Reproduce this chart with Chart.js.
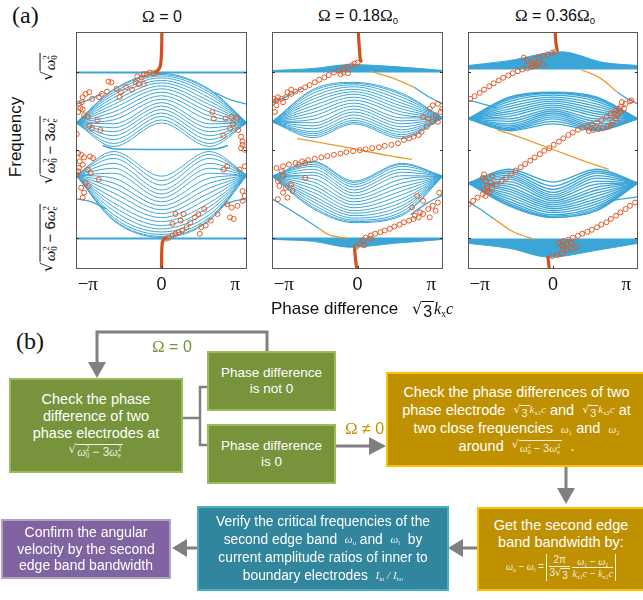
<!DOCTYPE html>
<html>
<head>
<meta charset="utf-8">
<script src="https://cdn.jsdelivr.net/npm/chart.js@4.4.1/dist/chart.umd.min.js"></script>
<style>
  html, body { margin: 0; padding: 0; background: #fff; }
  #fig { position: relative; width: 643px; height: 600px; overflow: hidden; font-family: 'Liberation Sans', Arial, sans-serif; color: #111; }
  canvas { position: absolute; }
  .abs { position: absolute; white-space: nowrap; }
  .lab { font-family: 'Liberation Serif', serif; font-size: 24px; }
  .ttl { font-size: 16px; transform: translateX(-50%); }
  .om { font-family: 'Liberation Serif', serif; font-size: 17px; }
  .rot { transform: translate(-50%, -50%) rotate(-90deg); }
  .m { font-family: 'Liberation Serif', serif; font-style: italic; }
  .up { font-style: normal; font-family: 'Liberation Sans', Arial, sans-serif; }
  .r { display: inline-flex; align-items: flex-start; }
  .r .s { font-style: normal; font-family: 'DejaVu Sans', sans-serif; }
  .r .o { border-top: 1px solid currentColor; padding: 1px 2px 0 1px; line-height: 1.1; margin-top: 0.1em; }
  .ss { display: inline-block; vertical-align: -0.32em; font-size: 0.6em; line-height: 0.95; font-style: normal; text-align: left; }
  .ss b { display: block; font-weight: normal; }
  .sub { font-size: 0.6em; vertical-align: -0.35em; font-style: normal; line-height: 0; }
  .box { position: absolute; box-sizing: border-box; display: flex; align-items: center; justify-content: center;
         text-align: center; color: #fff; border: 2px solid; }
  .fm { font-size: 11px; color: rgba(255,255,255,0.88); display: inline-block; line-height: 1; vertical-align: middle; }
  .frac { display: inline-flex; flex-direction: column; vertical-align: middle; text-align: center; line-height: 1.15; }
  .frac > span:first-child { border-bottom: 1px solid currentColor; }
  .abv { display: inline-flex; align-items: center; border-left: 1px solid currentColor; border-right: 1px solid currentColor; padding: 0 2px; vertical-align: middle; }
</style>
</head>
<body>
<div id="fig">
  <div class="abs lab" style="left:12px;top:2px;">(a)</div>
  <div class="abs ttl" style="left:162px;top:7px;"><span class="om">Ω</span> = 0</div>
  <div class="abs ttl" style="left:358px;top:6px;"><span class="om">Ω</span> = 0.18<span class="om">Ω</span><span class="sub">0</span></div>
  <div class="abs ttl" style="left:555px;top:6px;"><span class="om">Ω</span> = 0.36<span class="om">Ω</span><span class="sub">0</span></div>
  <div class="abs rot" style="left:16px;top:137px;font-size:17px;">Frequency</div>

  <div id="yl0" class="abs rot m" style="left:48px;font-size:15px;"><span class="r"><span class="s">√</span><span class="o">ω<span class="ss"><b>2</b><b>0</b></span></span></span></div>
  <div id="yl1" class="abs rot m" style="left:48px;font-size:15px;"><span class="r"><span class="s">√</span><span class="o">ω<span class="ss"><b>2</b><b>0</b></span> <span class="up">− 3</span>ω<span class="ss"><b>2</b><b>e</b></span></span></span></div>
  <div id="yl2" class="abs rot m" style="left:48px;font-size:15px;"><span class="r"><span class="s">√</span><span class="o">ω<span class="ss"><b>2</b><b>0</b></span> <span class="up">− 6</span>ω<span class="ss"><b>2</b><b>e</b></span></span></span></div>

  <canvas id="c1" width="181" height="274" style="left:71px;top:27px;"></canvas>
  <canvas id="c2" width="181" height="274" style="left:267px;top:27px;"></canvas>
  <canvas id="c3" width="180" height="274" style="left:463px;top:27px;"></canvas>

  <div class="abs" style="left:271px;top:299px;font-size:17px;">Phase difference</div>
  <div class="abs m" style="left:412px;top:299px;font-size:16px;"><span class="r"><span class="s">√</span><span class="o up">3</span></span>k<span class="sub">x</span>c</div>

  <!-- flowchart -->
  <div class="abs lab" style="left:16px;top:328px;">(b)</div>
  <svg class="abs" style="left:0;top:0;" width="643" height="600">
    <g stroke="#808080" fill="none" stroke-width="3">
      <polyline points="267,351 267,332 97,332 97,364"/>
      <polyline points="182,418 200,418" stroke-width="2.5"/>
      <polyline points="207,387 200,387 200,445 207,445" stroke-width="2.5"/>
      <polyline points="335,446 370,446"/>
      <polyline points="566,466 566,489"/>
      <polyline points="477,548 462,548"/>
      <polyline points="197,548 186,548"/>
    </g>
    <g fill="#808080">
      <polygon points="88,362 106,362 97,378"/>
      <polygon points="369,437 369,455 386,446"/>
      <polygon points="557,488 575,488 566,504"/>
      <polygon points="463,539 463,557 448,548"/>
      <polygon points="187,539 187,557 172,548"/>
    </g>
  </svg>
  <div class="abs" style="left:152px;top:337px;font-size:16px;color:#77933C;"><span class="om">Ω</span> = 0</div>
  <div class="abs" style="left:345px;top:419px;font-size:16px;color:#C59400;"><span class="om">Ω</span> ≠ 0</div>

  <div class="box" style="left:9px;top:378px;width:174px;height:95px;background:#77933C;border-color:#9BBB59;font-size:14.5px;line-height:17px;">
    <div>Check the phase<br>difference of two<br>phase electrodes at<br><span class="m fm" style="font-size:12px;"><span class="r"><span class="s">√</span><span class="o">ω<span class="ss"><b>2</b><b>0</b></span> <span class="up">− 3</span>ω<span class="ss"><b>2</b><b>e</b></span></span></span></span></div>
  </div>
  <div class="box" style="left:207px;top:351px;width:129px;height:60px;background:#77933C;border-color:#9BBB59;font-size:13.5px;line-height:16.5px;">
    <div>Phase difference<br>is not 0</div>
  </div>
  <div class="box" style="left:207px;top:424px;width:129px;height:60px;background:#77933C;border-color:#9BBB59;font-size:13.5px;line-height:16.5px;">
    <div>Phase difference<br>is 0</div>
  </div>
  <div class="box" style="left:386px;top:372px;width:262px;height:95px;background:#BF9000;border-color:#FFC000;font-size:14.5px;line-height:18px;justify-content:flex-start;">
    <div style="width:257px;">Check the phase differences of two<br>phase electrode&nbsp; <span class="m fm"><span class="r"><span class="s">√</span><span class="o up">3</span></span>k<span class="sub">x1</span>c</span> and&nbsp; <span class="m fm"><span class="r"><span class="s">√</span><span class="o up">3</span></span>k<span class="sub">x2</span>c</span> at<br>two close frequencies&nbsp; <span class="m fm">ω<span class="sub">1</span></span> and&nbsp; <span class="m fm">ω<span class="sub">2</span></span><br>around&nbsp; <span class="m fm"><span class="r"><span class="s">√</span><span class="o">ω<span class="ss"><b>2</b><b>0</b></span> <span class="up">− 3</span>ω<span class="ss"><b>2</b><b>e</b></span></span></span></span> &nbsp;.</div>
  </div>
  <div class="box" style="left:477px;top:507px;width:170px;height:84px;background:#BF9000;border-color:#FFC000;font-size:14.5px;line-height:17px;justify-content:flex-start;">
    <div style="width:164px;">Get the second edge<br>band bandwidth by:<br><span class="m fm" style="font-size:10px;margin-top:3px;">ω<span class="sub">u</span> <span class="up">−</span> ω<span class="sub">l</span> <span class="up">=</span> <span class="abv"><span class="frac"><span class="up">2π</span><span><span class="up">3</span><span class="r"><span class="s">√</span><span class="o up">3</span></span></span></span>&nbsp;<span class="frac"><span>ω<span class="sub">1</span> <span class="up">−</span> ω<span class="sub">2</span></span><span>k<span class="sub">x1</span>c <span class="up">−</span> k<span class="sub">x1</span>c</span></span></span></span></div>
  </div>
  <div class="box" style="left:197px;top:506px;width:252px;height:85px;background:#31859C;border-color:#4BACC6;font-size:13.8px;line-height:18px;">
    <div>Verify the critical frequencies of the<br>second edge band&nbsp; <span class="m fm">ω<span class="sub">u</span></span> and&nbsp; <span class="m fm">ω<span class="sub">l</span></span>&nbsp; by<br>current amplitude ratios of inner to<br>boundary electrodes&nbsp; <span class="m fm">I<span class="sub">in</span> / I<span class="sub">bo</span></span></div>
  </div>
  <div class="box" style="left:1px;top:519px;width:170px;height:60px;background:#8064A2;border-color:#B3A2C7;font-size:14px;line-height:16.5px;">
    <div>Confirm the angular<br>velocity by the second<br>edge band bandwidth</div>
  </div>
</div>

<script>
// ---------- axes ----------
const xTickValues = [-1, 0, 1];            // phase difference in units of π
const xTickLabels = ['−π', '0', 'π'];
const yLevels = [78, 0, -90];              // √ω0², √(ω0²−3ωe²), √(ω0²−6ωe²)
const xRange = [-1.16, 1.16];
const yRange = [-121, 119];

// ---------- Ω = 0 ----------
const p1Knots = [-1.16, -0.65, 0, 0.65, 1.16];
const p1UpperTips = [27, 27];
const p1UpperSide = [61, 60, 58, 55.5, 52.5, 49, 45.5, 42, 38, 34, 30, 26, 22, 18, 14, 10, 6, 3];
const p1UpperCenter = [77, 76, 74.5, 72.5, 70, 67.5, 64.5, 61.5, 58, 54.5, 51, 47.5, 44, 40.5, 37, 33.5, 30, 27];
const p1LowerTips = [-26, -26];
const p1LowerSide = [-72, -71, -69, -66, -62, -58, -54, -49, -44, -39, -34, -29, -24, -19, -14, -9, -5, -2];
const p1LowerCenter = [-89, -88, -86, -83.5, -80.5, -77, -73, -69, -65, -61, -57, -53, -49, -45, -41, -36, -31.5, -27];
const p1Flat = [78, -90];
const p1MidLine = [[-0.8, 4], [-0.62, 0.5], [0, 0], [0.72, 0.5], [0.9, 4]];
const p1BlueEdges = [
  [[-1.16, 46], [-1.0, 50], [-0.8, 57]],
  [[0.72, 58], [0.95, 50], [1.16, 46]],
  [[-1.16, -50], [-0.95, -53], [-0.75, -60]],
  [[0.8, -58], [0.95, -53], [1.16, -50]]
];
const p1OrangeEdges = [];
const p1Tracks = [
  [[0.005, 119], [0.0, 98], [-0.015, 85], [-0.05, 80], [-0.09, 78]],
  [[0.06, -89.3], [0.02, -92], [0.005, -100], [0.0, -121]]
];
const p1Measured = [
  [-0.07,78],[-0.11,77.3],[-0.16,78],[-0.20,76.3],[-0.24,76.3],[-0.27,73],[-0.33,74],[-0.35,68],[-0.31,66.3],[-0.24,66.3],
  [-0.40,60.7],[-0.48,63],[-0.55,58],[-0.57,53],[-0.61,61.3],[-0.68,68],[-0.72,68.7],[-0.74,58.7],[-0.81,56.3],[-0.85,53],
  [-0.94,51.3],[-0.98,58],[-1.03,56.3],[-1.07,53],[-1.08,48],[-1.12,46.3],[-1.10,42],[-1.07,40.7],[-1.13,38],[-1.05,34.7],
  [-1.00,33],[-0.98,24],[-0.94,21.3],[-0.87,29.7],[-0.83,19.7],[-1.15,15.7],
  [0.69,38],[0.71,31.3],[0.87,31.3],[0.95,33],[1.02,32],[0.97,26.3],[0.84,14],[0.93,21.3],[1.04,19.7],[1.08,13],
  [1.10,8],[1.10,4.7],[1.13,-0.3],[1.08,1.3],
  [-1.13,-3.7],[-1.09,-5.3],[-1.05,-8],[-0.97,-7],[-0.93,-8.7],[-1.11,-12],[-1.07,-15.3],[-1.12,-18.7],[-1.00,-20.3],
  [-0.96,-23.7],[-1.15,-25.3],[-1.03,-33.7],[-0.99,-37],[-1.09,-38.7],[-1.05,-43.7],[-1.07,-48.7],[-0.85,-30.3],[-1.13,-22],
  [1.13,-17],[1.06,-20.3],[0.89,-17],[0.84,-20.3],[1.10,-42],[1.13,-47],[1.10,-52],[1.03,-57],[0.95,-58.7],[0.89,-55.3],
  [0.93,-68.7],[0.98,-70.3],[0.76,-65.3],[0.67,-72],[0.60,-77],[0.54,-78.7],[0.50,-65.3],[0.45,-68.7],[0.39,-73.7],
  [0.34,-78.7],[0.28,-82],[0.23,-83.7],[0.19,-85.3],[0.15,-87],[0.10,-89.3],[0.06,-90.3],[0.26,-72],[0.15,-75.3],
  [0.30,-65.3],[0.19,-65.3],[0.52,-85.3],[0.58,-60.3]
];

// ---------- Ω = 0.18Ω0 ----------
const p2Knots = [-1.16, -0.6, -0.05, 0.6, 1.16];
const p2UpperTips = [28, 32];
const p2UpperLeft = [61, 59.5, 57, 54, 51, 48, 44.5, 41, 37.5, 34, 30.5, 27, 24, 21, 18, 16, 14, 12];
const p2UpperCenter = [68, 67, 65.5, 63.5, 61, 58.5, 56, 53, 50, 47, 44, 41, 38, 35, 32, 29.5, 27.5, 26];
const p2UpperRight = [57, 55.5, 53, 50, 47, 44, 41, 38, 35, 32, 29, 26, 23, 20, 17.5, 15, 13, 11];
const p2LowerTips = [-27, -27];
const p2LowerLeft = [-60, -58.5, -56, -53, -50, -47, -43.5, -40, -36.5, -33, -29.5, -26, -23, -20, -17, -15, -13, -12];
const p2LowerCenter = [-74, -73, -71.5, -69.5, -67, -64.5, -62, -59, -56, -53, -50, -47, -44, -41, -38, -35.5, -33.5, -32];
const p2LowerRight = [-67, -65.5, -63, -60, -57, -53.5, -50, -46, -42, -38, -34, -30, -26.5, -23, -20, -17, -15, -14];
const p2CapKnots = [-1.16, -0.6, -0.1, 0.5, 1.16];
const p2TopCap = [80, 82, 86, 84, 80];
const p2BottomCap = [-91, -93, -99, -95, -91];
const p2Flat = [79, -90];
const p2BlueEdges = [
  [[-1.16, 47], [-0.95, 54], [-0.75, 62]],
  [[0.77, 63], [0.95, 54], [1.16, 46]],
  [[-1.16, -50], [-0.85, -64], [-0.52, -80]],
  [[0.72, -66], [0.95, -54], [1.16, -46]]
];
const p2OrangeEdges = [
  [[-0.82, 11], [-0.5, 7], [0, 0], [0.4, -6], [0.74, -10]],
  [[0.18, 79], [0.45, 73], [0.77, 63]],
  [[-0.52, -80], [-0.4, -86], [-0.13, -90]]
];
const p2Tracks = [
  [[0.01, 119], [0.03, 98], [0.04, 90.7], [0.06, 88.7]],
  [[-0.04, -98.7], [-0.03, -108.7], [-0.01, -121]]
];
const p2Measured = [
  [-1.14,48],[-1.10,49.7],[-1.03,51.3],[-0.97,53],[-0.90,56.3],[-0.84,58.7],[-0.77,60.7],[-0.71,63],[-0.65,65.3],[-0.58,68],
  [-0.52,70.7],[-0.45,73],[-0.39,75.3],[-0.32,78],[-0.26,79.7],[-0.19,82],[-0.14,84],[-0.08,85.3],[-0.04,87],[0.0,88],
  [-0.19,78],[-0.13,77.3],[-0.23,76.3],
  [-1.14,51.3],[-1.08,53],[-1.01,48],[-0.95,58],[-0.90,60.7],[-1.10,44.7],[-1.12,38],
  [0.98,41.3],[1.02,44.7],[1.09,46.3],[1.13,38],[1.06,34.7],[1.02,28],[0.96,31.3],[0.89,33],[0.94,23],[0.87,18],
  [0.83,14.7],[0.76,13],[0.70,11.3],[0.63,9.7],[1.09,28],[1.15,41.3],
  [0.55,6.3],[0.46,4.7],[0.37,3.7],[0.29,2.3],[0.20,1.3],[0.11,0.3],[0.03,-0.7],[-0.06,-1.7],[-0.15,-2.7],[-0.23,-4],
  [-0.32,-5.3],[-0.41,-6.7],[-0.49,-8],[-0.58,-9.3],[-0.67,-10.7],[-0.75,-12],[-0.84,-13.7],[-0.93,-15.3],[-1.01,-17],
  [-1.10,-18.7],[-1.03,-22],[-1.01,-27],[-1.08,-32],[-1.06,-37],[-0.97,-38.7],[-0.90,-35.3],[-0.88,-42],[-1.01,-43.7],
  [-0.95,-48.7],[-1.08,-50.3],[-0.71,-28.7],[-0.80,-15.3],[-0.71,-13.7],
  [1.09,-53.7],[1.02,-57],[0.96,-60.3],[0.89,-65.3],[0.83,-68.7],[0.76,-70.3],[0.70,-72],[0.63,-73.7],[0.57,-76],[0.50,-78],
  [0.44,-80.3],[0.37,-82],[0.31,-83.7],[0.24,-85.3],[0.18,-87],[0.11,-89.3],[0.07,-92],[0.03,-95.3],[-0.02,-98.7],
  [1.11,-43.7],[1.06,-62],[0.98,-68.7],[0.85,-63.7],[0.78,-67],[0.74,-58.7],[0.81,-47],[0.89,-52],
  [0.18,-90.3],[0.09,-97]
];

// ---------- Ω = 0.36Ω0 ----------
const p3Knots = [-1.16, -0.6, 0, 0.6, 1.16];
const p3UpperTips = [31, 31];
const p3UpperLeft = [53, 52, 50.5, 48.5, 46, 43.5, 41, 38.5, 36, 33.5, 31, 28.5, 26, 24, 22.5, 21, 20, 19];
const p3UpperCenter = [58, 57.5, 56.5, 55, 53, 51, 49, 47, 45, 43, 41, 39, 37, 35, 33, 31, 28.5, 26];
const p3UpperRight = [53, 52, 50.5, 48.5, 46, 43.5, 41, 38.5, 36, 33.5, 31, 28.5, 26, 24, 22.5, 21, 20, 19];
const p3LowerTips = [-34, -34];
const p3LowerLeft = [-57, -56, -54.5, -52.5, -50, -47.5, -45, -42.5, -40, -37.5, -35, -32.5, -30, -28, -26, -24, -22, -20];
const p3LowerCenter = [-69, -68.5, -67.5, -66, -64, -62, -60, -58, -56, -54, -52, -50, -48, -46, -43.5, -40.5, -37, -33];
const p3LowerRight = [-62, -61, -59.5, -57.5, -55, -52.5, -50, -47, -44, -41, -38, -35, -32, -29, -26.5, -24, -22, -20];
const p3TopCapKnots = [-1.16, -0.6, 0.1, 0.7, 1.16];
const p3TopCap = [85, 90, 99, 88, 85];
const p3BottomCapKnots = [-1.16, -0.6, -0.05, 0.6, 1.16];
const p3BottomCap = [-95, -100, -109, -102, -95];
const p3Flat = [82, -91];
const p3BlueEdges = [
  [[-1.16, 50], [-0.95, 46], [-0.77, 42]],
  [[0.88, 58], [1.0, 52], [1.16, 46]],
  [[-1.16, -53], [-1.0, -60], [-0.81, -70]],
  [[0.78, -52], [0.95, -50], [1.16, -48]]
];
const p3OrangeEdges = [
  [[-0.76, 20], [-0.4, 11], [0, 0], [0.4, -11], [0.76, -20]],
  [[0.38, 81], [0.65, 72], [0.88, 58]],
  [[-0.81, -70], [-0.55, -83], [-0.26, -91]]
];
const p3Tracks = [
  [[0.03, 119], [0.04, 108], [0.06, 99.7]],
  [[-0.07, -108], [-0.06, -115.3], [-0.05, -121]]
];
const p3Measured = [
  [-1.13,51.3],[-1.07,54],[-1.00,57.3],[-0.94,60.7],[-0.87,64],[-0.81,67],[-0.74,70],[-0.68,72.7],[-0.61,75],[-0.55,77.3],
  [-0.48,79.3],[-0.42,81],[-0.35,82.3],[-0.29,83.7],[-0.23,84.7],
  [-0.40,93],[-0.35,89.7],[-0.29,88],[-0.25,91.3],[-0.20,93],[-0.14,94.7],[-0.07,96.3],[-0.01,98],[0.03,98.7],
  [-0.20,86.3],[-0.14,86.3],[-0.27,85.3],
  [0.90,41.3],[0.92,38],[0.88,34.7],[0.86,31.3],[0.81,28],[0.79,24.7],[0.75,23],[0.68,21.3],[0.62,20.7],[0.55,19.7],
  [0.49,18.7],[0.94,48],[1.07,49.7],[0.97,41.3],[0.84,36.3],
  [-1.15,-55.3],[-1.09,-52],[-1.03,-48.7],[-0.96,-45.3],[-0.90,-42],[-0.83,-38.7],[-0.77,-35.3],[-0.70,-32],[-0.64,-28.7],
  [-0.57,-24.7],[-0.51,-21.3],[-0.44,-18],[-0.38,-14.7],[-0.31,-11.3],[-0.25,-8],[-0.18,-4.7],[-0.12,-1.3],[-0.05,1.3],
  [0.01,4.7],[0.08,8],[0.14,11.3],[0.21,14.7],[0.27,17.3],[0.34,20],[0.40,22],[0.47,24],[0.53,25.3],[0.60,27.3],
  [0.66,29.7],[0.73,33],[0.79,36.3],[0.86,39.7],[0.92,43],[0.99,46.3],[1.05,48.7],
  [-0.96,-28.7],[-0.92,-32],[-0.90,-37],[-0.94,-40.3],[-0.87,-43.7],[-0.92,-47],[-0.85,-33.7],[-0.83,-27],[-0.94,-25.3],
  [1.12,-53.7],[1.05,-57],[0.99,-60.3],[0.92,-63.7],[0.86,-67],[0.79,-70.3],[0.73,-73.7],[0.66,-76],[0.60,-78.7],
  [0.53,-81.3],[0.47,-83.3],[0.40,-85.3],[0.34,-87.3],[0.27,-89.3],[0.21,-91.3],[0.14,-92.7],[0.08,-94.7],
  [0.12,-97],[0.19,-95.3],[0.25,-94.7],[0.32,-98.7],[0.25,-100.3],[0.19,-102],[0.12,-105.3],[0.06,-107],[-0.01,-108],[0.14,-100.3]
];

// ---------- styling ----------
const BLUE = 'rgb(58,166,216)';
const ORANGE = 'rgb(233,158,48)';
const RED = 'rgb(226,90,36)';
const TRACK = 'rgb(214,78,26)';

const pts = (pairs) => pairs.map(([x, y]) => ({ x, y }));

function bandSets(knots, tips, left, center, right, width) {
  return center.map((c, i) => ({
    data: [
      { x: knots[0], y: tips[0] }, { x: knots[1], y: left[i] }, { x: knots[2], y: c },
      { x: knots[3], y: right[i] }, { x: knots[4], y: tips[1] }
    ],
    borderColor: BLUE, borderWidth: width || 1, pointRadius: 0, cubicInterpolationMode: 'monotone', fill: false, order: 5
  }));
}
function flatSets(levels) {
  return levels.map(v => ({
    data: [{ x: xRange[0], y: v }, { x: xRange[1], y: v }],
    borderColor: BLUE, borderWidth: 2, pointRadius: 0, fill: false, order: 5
  }));
}
function capSet(knots, vals, base) {
  return {
    data: knots.map((x, i) => ({ x, y: vals[i] })),
    borderColor: BLUE, backgroundColor: BLUE, borderWidth: 1, pointRadius: 0,
    cubicInterpolationMode: 'monotone', fill: { value: base }, order: 5
  };
}
function edgeSets(list, color) {
  return list.map(p => ({
    data: pts(p), borderColor: color, borderWidth: 1.3, pointRadius: 0,
    cubicInterpolationMode: 'monotone', fill: false, order: 3
  }));
}
function trackSets(list) {
  return list.map(p => ({
    data: pts(p), borderColor: TRACK, borderWidth: 3.2, pointRadius: 0, tension: 0.35,
    fill: false, order: 1
  }));
}
function measuredSet(list) {
  return {
    data: pts(list), showLine: false, pointRadius: 2.5, pointBorderWidth: 1,
    pointBackgroundColor: 'rgba(0,0,0,0)', pointBorderColor: RED, order: 0
  };
}

const framePlugin = {
  id: 'frame',
  afterDatasetsDraw(chart) {
    const { ctx, chartArea: a, scales } = chart;
    ctx.save();
    ctx.strokeStyle = '#5a5a5a';
    ctx.lineWidth = 1;
    ctx.strokeRect(a.left + 0.5, a.top + 0.5, a.width - 1, a.height - 1);
    ctx.strokeStyle = '#333';
    yLevels.forEach(v => {
      const py = Math.round(scales.y.getPixelForValue(v)) + 0.5;
      ctx.beginPath();
      ctx.moveTo(a.left, py); ctx.lineTo(a.left + 3, py);
      ctx.moveTo(a.right - 3, py); ctx.lineTo(a.right, py);
      ctx.stroke();
    });
    const px = Math.round(scales.x.getPixelForValue(0)) + 0.5;
    ctx.beginPath(); ctx.moveTo(px, a.bottom); ctx.lineTo(px, a.bottom - 3); ctx.stroke();
    ctx.restore();
  }
};

function makePanel(id, datasets) {
  return new Chart(document.getElementById(id), {
    type: 'line',
    data: { datasets },
    plugins: [framePlugin],
    options: {
      responsive: false, animation: false, events: [],
      layout: { padding: { left: 2, right: 2, top: 2, bottom: 0 } },
      plugins: { legend: { display: false }, tooltip: { enabled: false } },
      scales: {
        x: {
          type: 'linear', min: xRange[0], max: xRange[1],
          grid: { display: false, drawTicks: false }, border: { display: false },
          afterBuildTicks: (s) => { s.ticks = xTickValues.map(value => ({ value })); },
          afterFit: (s) => { s.height = 32; },
          ticks: {
            padding: 5, color: '#111', maxRotation: 0, autoSkip: false,
            font: (c) => (c.tick && c.tick.value === 0)
              ? { family: "'Liberation Sans', Arial, sans-serif", size: 18 }
              : { family: "'Liberation Serif', serif", size: 19 },
            callback: (v) => xTickLabels[xTickValues.indexOf(v)]
          }
        },
        y: { type: 'linear', min: yRange[0], max: yRange[1], display: false }
      }
    }
  });
}

const chart1 = makePanel('c1', [
  measuredSet(p1Measured),
  ...trackSets(p1Tracks),
  ...edgeSets(p1BlueEdges, BLUE),
  ...edgeSets(p1OrangeEdges, ORANGE),
  { data: pts(p1MidLine), borderColor: BLUE, borderWidth: 1.5, pointRadius: 0, cubicInterpolationMode: 'monotone', fill: false, order: 5 },
  ...flatSets(p1Flat),
  ...bandSets(p1Knots, p1UpperTips, p1UpperSide, p1UpperCenter, p1UpperSide),
  ...bandSets(p1Knots, p1LowerTips, p1LowerSide, p1LowerCenter, p1LowerSide)
]);

makePanel('c2', [
  measuredSet(p2Measured),
  ...trackSets(p2Tracks),
  ...edgeSets(p2OrangeEdges, ORANGE),
  ...edgeSets(p2BlueEdges, BLUE),
  capSet(p2CapKnots, p2TopCap, p2Flat[0]),
  capSet(p2CapKnots, p2BottomCap, p2Flat[1]),
  ...flatSets(p2Flat),
  ...bandSets(p2Knots, p2UpperTips, p2UpperLeft, p2UpperCenter, p2UpperRight),
  ...bandSets(p2Knots, p2LowerTips, p2LowerLeft, p2LowerCenter, p2LowerRight)
]);

makePanel('c3', [
  measuredSet(p3Measured),
  ...trackSets(p3Tracks),
  ...edgeSets(p3OrangeEdges, ORANGE),
  ...edgeSets(p3BlueEdges, BLUE),
  capSet(p3TopCapKnots, p3TopCap, p3Flat[0]),
  capSet(p3BottomCapKnots, p3BottomCap, p3Flat[1]),
  ...flatSets(p3Flat),
  ...bandSets(p3Knots, p3UpperTips, p3UpperLeft, p3UpperCenter, p3UpperRight, 1.3),
  ...bandSets(p3Knots, p3LowerTips, p3LowerLeft, p3LowerCenter, p3LowerRight, 1.3)
]);

// rotated level labels sit on the y positions of the three reference frequencies
const canvasTop = 27;
['yl0', 'yl1', 'yl2'].forEach((id, i) => {
  const el = document.getElementById(id);
  el.style.top = (canvasTop + chart1.scales.y.getPixelForValue(yLevels[i]) - (i === 0 ? 5 : 0)) + 'px';
});
</script>
</body>
</html>
